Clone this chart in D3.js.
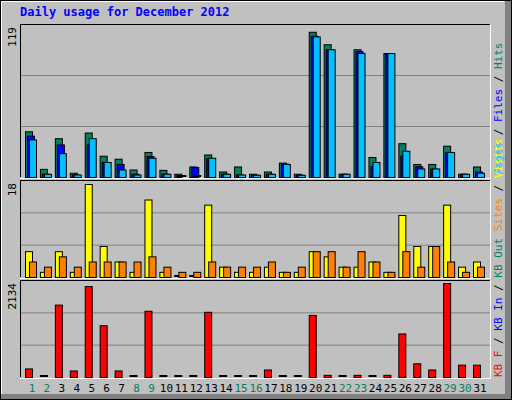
<!DOCTYPE html>
<html><head><meta charset="utf-8">
<script src="https://cdn.jsdelivr.net/npm/d3@7"></script>
<style>body{margin:0;background:#fff}svg{display:block}</style>
</head><body><svg id="c" width="512" height="400"></svg>
<script>
const days = d3.range(1, 32);
const weekend = [1,2,8,9,15,16,22,23,29,30];
const hits  = [36.5,6.5,31,3.4,35.5,17,14.6,6,20,5.7,2.6,8.4,18,4.4,8.4,2.6,4.4,11.5,2.6,116,106,2.6,102,16,99,27,10.4,10.4,25,2.6,8.4];
const files = [33,2.6,26,2,26,12,10.4,2.6,16.7,2.6,0,8,15,2.6,2,1.8,2.6,10.7,1.8,112.8,102,2.6,100.5,8.6,99,17,8.6,6.8,20,2.6,4.4];
const pages = [30,2.6,19,2,31,12,6,2,15.4,2.6,0,0,15.4,2.6,2,1.8,2.6,10.4,1.8,112.3,102,2.6,99,12,99,21,6.8,6.8,20,2.6,3.4];
const visits = [5,1,5,1,18,6,3,1,15,1,0,0,14,2,1,1,2,1,1,5,4,2,2,3,1,12,6,6,14,2,3];
const sites  = [3,2,4,2,3,3,3,3,4,2,1,1,3,2,2,2,3,1,2,5,5,2,5,3,1,5,2,6,3,1,2];
const kbytes = [195,0,1643,148,2064,1176,148,0,1503,0,0,0,1480,0,0,0,171,0,0,1410,50,0,50,0,50,989,311,171,2134,280,280];
const maxLabels = ["119","18","2134"];

const svg = d3.select("#c");
const F = "'DejaVu Sans Mono', monospace";
svg.append("rect").attr("width",512).attr("height",400).attr("fill","#c0c0c0");
svg.append("rect").attr("x",505).attr("y",0).attr("width",7).attr("height",400).attr("fill","#808080");
svg.append("rect").attr("x",0).attr("y",394).attr("width",512).attr("height",6).attr("fill","#808080");
svg.append("rect").attr("x",0.5).attr("y",0.5).attr("width",511).attr("height",399).attr("fill","none").attr("stroke","#000");
svg.append("line").attr("x1",1.5).attr("y1",1.5).attr("x2",504).attr("y2",1.5).attr("stroke","#fff");
svg.append("line").attr("x1",1.5).attr("y1",1.5).attr("x2",1.5).attr("y2",394).attr("stroke","#fff");

svg.append("text").attr("x",20).attr("y",16).attr("font-family",F).attr("font-weight","bold")
  .attr("font-size",12).attr("fill","#0000ff").text("Daily usage for December 2012");

const x = d3.scaleLinear().domain([1,31]).range([25,473]);
const panels = [
  {top:24, bot:177, max:119, maxPx:4},
  {top:180, bot:277, max:18, maxPx:4},
  {top:280, bot:377, max:2134, maxPx:3}
];
panels.forEach((p,i)=>{
  svg.append("rect").attr("x",20).attr("y",p.top).attr("width",470).attr("height",p.bot-p.top).attr("fill","#c0c0c0");
  const h = p.bot-p.top;
  [1,2].forEach(k=>svg.append("line").attr("x1",20).attr("x2",490)
    .attr("y1",p.top+h*k/3+0.5).attr("y2",p.top+h*k/3+0.5).attr("stroke","#808080"));
  svg.append("line").attr("x1",20.5).attr("x2",20.5).attr("y1",p.top).attr("y2",p.bot).attr("stroke","#000");
  svg.append("line").attr("x1",20).attr("x2",490).attr("y1",p.top+0.5).attr("y2",p.top+0.5).attr("stroke","#000");
  svg.append("line").attr("x1",490.5).attr("x2",490.5).attr("y1",p.top).attr("y2",p.bot+1).attr("stroke","#fff");
  svg.append("line").attr("x1",20).attr("x2",491).attr("y1",p.bot+1.5).attr("y2",p.bot+1.5).attr("stroke","#fff");
  p.y = d3.scaleLinear().domain([0,p.max]).range([p.bot,p.top+p.maxPx]);
  svg.append("text").attr("transform",`translate(16,${p.top+3}) rotate(-90)`).attr("text-anchor","end")
    .attr("font-family",F).attr("font-size",11).attr("fill","#000").text(maxLabels[i]);
});

function bars(data, p, off, w, color){
  svg.append("g").selectAll("rect").data(data).join("rect")
    .attr("x",(d,i)=>x(days[i])+off+0.5)
    .attr("y",d=>d>0?Math.min(p.y(d),p.bot-1)+0.5:p.bot-1.5)
    .attr("width",w)
    .attr("height",d=>d>0?Math.max(p.bot-p.y(d),1):1)
    .attr("fill",d=>d>0?color:"#000").attr("stroke","#000").attr("stroke-width",1);
}
bars(hits, panels[0], 0, 7, "#008060");
bars(files, panels[0], 2, 7, "#0000ff");
bars(pages, panels[0], 4, 7, "#00c0ff");
bars(visits, panels[1], 0, 7, "#ffff00");
bars(sites, panels[1], 4, 7, "#ff8000");
bars(kbytes, panels[2], 0, 7, "#ff0000");

svg.append("g").selectAll("text").data(days).join("text")
  .attr("x",d=>x(d)+7).attr("y",392).attr("text-anchor","middle")
  .attr("font-family",F).attr("font-size",11)
  .attr("fill",d=>weekend.includes(d)?"#008060":"#000").text(d=>d);

function sideLabel(parts, yBottom){
  const t = svg.append("text").attr("transform",`translate(502,${yBottom}) rotate(-90)`)
    .attr("font-family",F).attr("font-size",11);
  parts.forEach(([s,c])=>t.append("tspan").attr("fill",c).text(s));
}
sideLabel([["Pages","#00c0ff"],[" / ","#000"],["Files","#0000ff"],[" / ","#000"],["Hits","#008060"]],175);
sideLabel([["KB F","#ff0000"],[" / ","#000"],["KB In","#0000ff"],[" / ","#000"],["KB Out","#008060"],[" ","#000"],["Sites","#ff8000"],[" / ","#000"],["Visits","#ffff00"]],377);
</script></body></html>
